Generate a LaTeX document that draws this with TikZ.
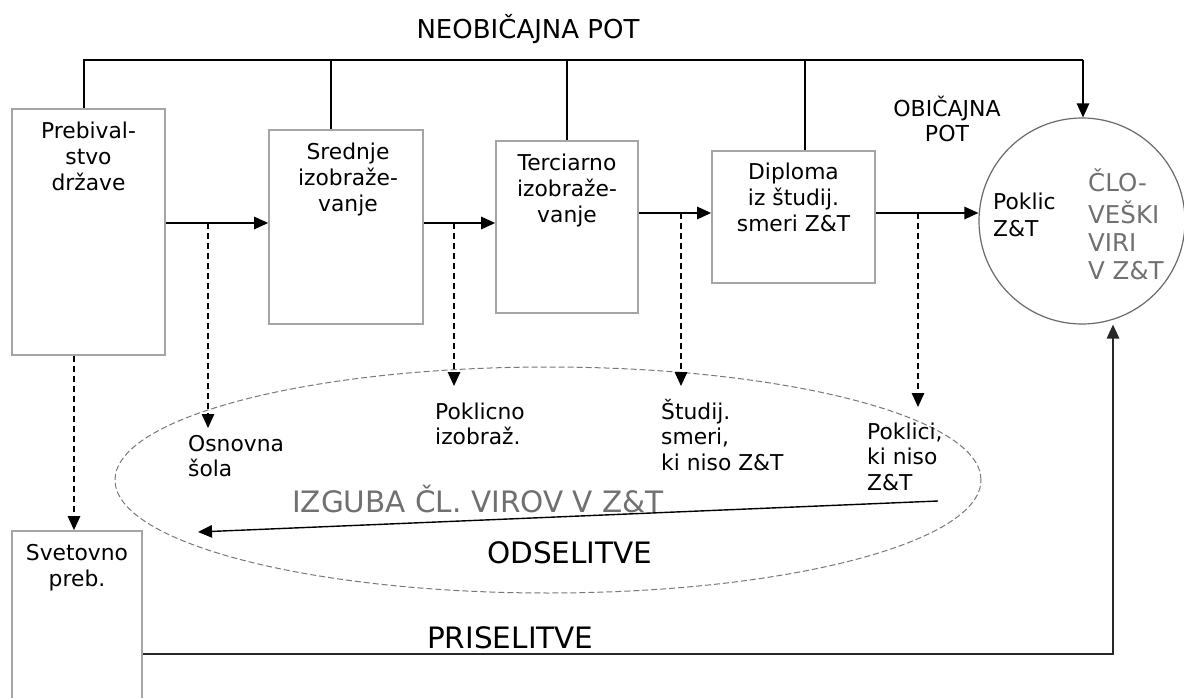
\documentclass[tikz,border=0pt]{standalone}
\usepackage{fontspec}
\setmainfont{DejaVu Sans}
\usetikzlibrary{arrows.meta,shapes.geometric}
\definecolor{boxgray}{RGB}{165,165,165}
\definecolor{circgray}{RGB}{105,105,105}
\definecolor{ellgray}{RGB}{120,120,120}
\definecolor{txtgray}{RGB}{112,112,112}
\definecolor{linedark}{RGB}{40,40,40}
\newcommand{\mlc}[1]{\begin{tabular}[t]{@{}c@{}}#1\end{tabular}}
\newcommand{\mll}[1]{\begin{tabular}[t]{@{}l@{}}#1\end{tabular}}
\tikzset{
  boxnode/.style={draw=boxgray, line width=1.8pt, rectangle, inner sep=0pt},
  lab/.style={inner sep=0pt, font=\fontsize{21.8}{26}\selectfont},
  labs/.style={inner sep=0pt, font=\fontsize{21.8}{25.5}\selectfont},
  biglab/.style={inner sep=0pt, font=\fontsize{29.5}{34}\selectfont},
  conn/.style={line width=1.4pt, draw=black},
  arr/.style={conn, -{Triangle[length=14pt,width=12.5pt]}},
  darr/.style={arr, dash pattern=on 6pt off 4pt},
}
\begin{document}
\begin{tikzpicture}[x=1pt,y=-1pt]
\useasboundingbox (0,0) rectangle (1184,698);
\clip (0,0) rectangle (1184,698);
\fill[white] (0,0) rectangle (1184,698);

% boxes
\node[boxnode, minimum width=153pt, minimum height=246pt] (prb) at (88.5,232) {};
\node[boxnode, minimum width=154pt, minimum height=194pt] (sred) at (346,227) {};
\node[boxnode, minimum width=142pt, minimum height=172pt] (terc) at (567,227) {};
\node[boxnode, minimum width=163pt, minimum height=132pt] (dipl) at (793.5,217) {};
\node[boxnode, minimum width=130pt, minimum height=180pt] (svet) at (77,621) {};
\node[draw=circgray, line width=1.2pt, circle, minimum size=206pt, inner sep=0pt] (circ) at (1082,221) {};
\node[draw=ellgray, line width=1pt, dash pattern=on 6pt off 3pt, ellipse, minimum width=866pt, minimum height=226pt, inner sep=0pt] (ell) at (548,480) {};

% box texts
\node[lab, anchor=base] (prbt) at ([yshift=-30pt]prb.north) {\mlc{Prebival-\\stvo\\države}};
\node[lab, anchor=base] (sredt) at ([yshift=-30.5pt,xshift=2pt]sred.north) {\mlc{Srednje\\izobraže-\\vanje}};
\node[lab, anchor=base] (terct) at ([yshift=-30pt]terc.north) {\mlc{Terciarno\\izobraže-\\vanje}};
\node[lab, anchor=base] (diplt) at ([yshift=-29pt]dipl.north) {\mlc{Diploma\\iz študij.\\smeri Z\&T}};
\node[lab, anchor=base] (svett) at ([yshift=-30pt]svet.north) {\mlc{Svetovno\\preb.}};
\node[lab, anchor=base west] (poklic) at (993,210) {\mll{Poklic\\Z\&T}};
\node[inner sep=0pt, font=\fontsize{24.5}{28.3}\selectfont, text=txtgray, anchor=base west] (clo) at (1088,192) {\mll{ČLO-\\VEŠKI\\VIRI\\V Z\&T}};
\node[inner sep=0pt, font=\fontsize{22}{25}\selectfont, anchor=base] (obic) at (947,117) {\mlc{OBIČAJNA\\POT}};
\node[inner sep=0pt, font=\fontsize{26}{30}\selectfont, anchor=base] (neob) at (528,39) {NEOBIČAJNA POT};

% ellipse labels
\node[labs, anchor=base west] (osn) at (188,451) {\mll{Osnovna\\šola}};
\node[labs, anchor=base west] (pokl) at (435,419) {\mll{Poklicno\\izobraž.}};
\node[labs, anchor=base west] (stud) at (661,419) {\mll{Študij.\\smeri,\\ki niso Z\&T}};
\node[labs, anchor=base west] (pokn) at (867,439) {\mll{Poklici,\\ki niso\\Z\&T}};
\node[biglab, text=txtgray, anchor=base west] (izg) at (292,512) {IZGUBA ČL. VIROV V Z\&T};
\node[biglab, anchor=base west] (ods) at (487,563) {ODSELITVE};
\node[biglab, anchor=base west] (pri) at (427,648) {PRISELITVE};

% coordinates
\coordinate (bus1) at (84,60);
\coordinate (bus2) at (331,60);
\coordinate (bus3) at (567,60);
\coordinate (bus4) at (805,60);
\coordinate (bus5) at (1083,60);
\coordinate (ya) at (0,223);
\coordinate (yb) at (0,213);
\coordinate (d1) at (208,223);
\coordinate (t1) at (208,428);
\coordinate (d2) at (454,223);
\coordinate (t2) at (454,386);
\coordinate (d3) at (681,213);
\coordinate (t3) at (681,386);
\coordinate (d4) at (918,213);
\coordinate (t4) at (918,407);
\coordinate (d5) at (74,0);
\coordinate (os1) at (938,501);
\coordinate (os2) at (198,532);
\coordinate (pc) at (1113,654);

% top bus
\draw[conn] (bus1 |- prb.north) -- (bus1) -- (bus5);
\draw[arr] (bus5) -- (bus5 |- circ.north);
\draw[conn] (bus2) -- (bus2 |- sred.north);
\draw[conn] (bus3) -- (bus3 |- terc.north);
\draw[conn] (bus4) -- (bus4 |- dipl.north);

% main flow
\draw[arr] (prb.east |- ya) -- (sred.west |- ya);
\draw[arr] (sred.east |- ya) -- (terc.west |- ya);
\draw[arr] (terc.east |- yb) -- (dipl.west |- yb);
\draw[arr] (dipl.east |- yb) -- (circ.west |- yb);

% dashed losses
\draw[darr] (d1) -- (t1);
\draw[darr] (d2) -- (t2);
\draw[darr] (d3) -- (t3);
\draw[darr] (d4) -- (t4);
\draw[darr] (d5 |- prb.south) -- (d5 |- svet.north);

% emigration / immigration
\draw[arr] (os1) -- (os2);
\draw[arr, draw=linedark, line width=1.6pt] (svet.east |- pc) -- (pc) -- (pc |- circ.south);
\end{tikzpicture}
\end{document}
